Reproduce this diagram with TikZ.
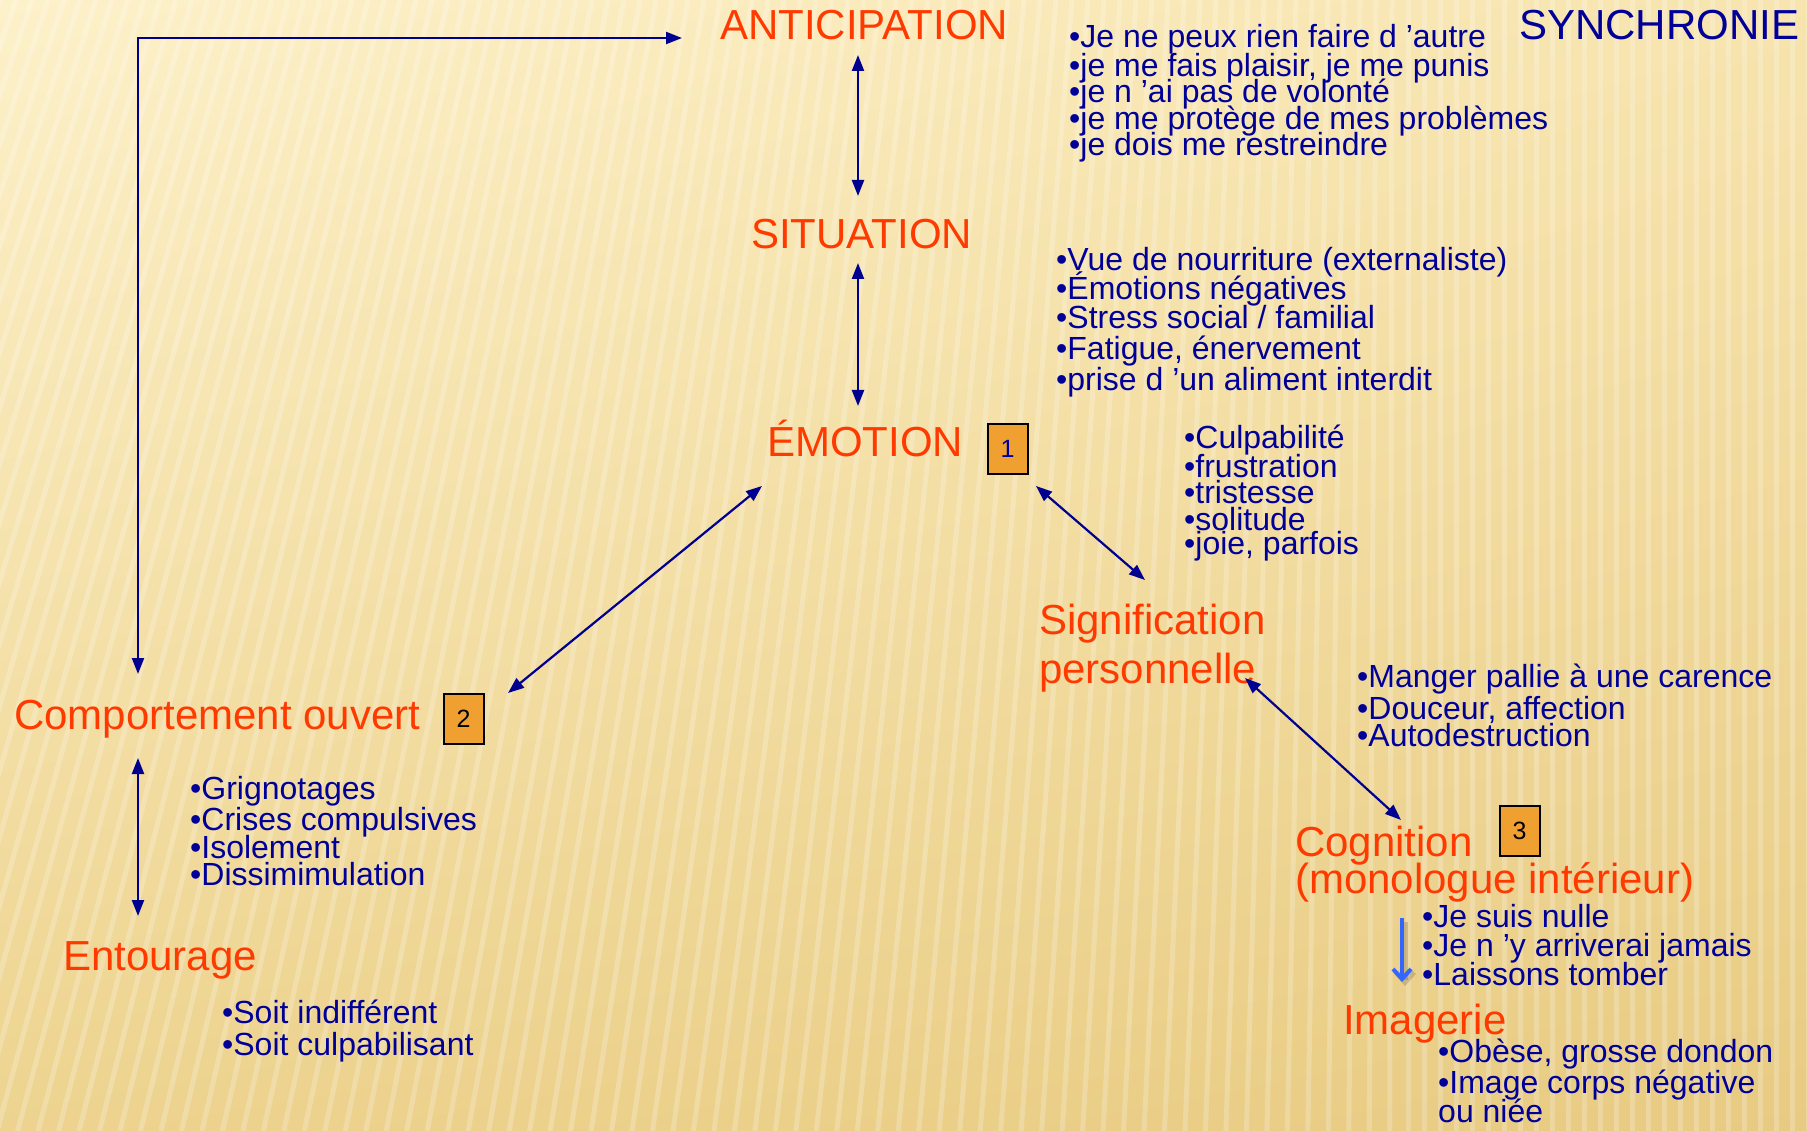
\documentclass[tikz,border=0pt]{standalone}
\usepackage{fontspec}
\setmainfont{Liberation Sans}
\usetikzlibrary{arrows.meta,calc,shadings}
\definecolor{redt}{HTML}{FF3A00}
\definecolor{navyt}{HTML}{000099}
\definecolor{arrowc}{HTML}{000090}
\definecolor{boxor}{HTML}{F0A030}
\definecolor{lblue}{HTML}{3366FF}
\definecolor{bgA}{HTML}{FDF1CA}
\definecolor{bgB}{HTML}{F7E4AE}
\definecolor{bgC}{HTML}{EDD38F}
\definecolor{bgD}{HTML}{E8CB82}
\begin{document}
\begin{tikzpicture}[x=1pt,y=-1pt,
  ttl/.style={text=redt, font=\fontsize{42}{46}\selectfont, anchor=base west, inner sep=0pt},
  itm/.style={text=navyt, font=\fontsize{32}{32}\selectfont, anchor=base west, inner sep=0pt},
  biarrow/.style={draw=arrowc, line width=2.2pt, {Triangle[length=16pt,width=12pt]}-{Triangle[length=16pt,width=12pt]}},
  numbox/.style={draw=black, line width=2pt, fill=boxor, minimum width=40pt, minimum height=50pt, inner sep=0pt, font=\fontsize{25}{25}\selectfont}]
% background
\useasboundingbox (0,0) rectangle (1807,1131);
\shade[upper left=bgA, upper right=bgB, lower left=bgC, lower right=bgD] (0,0) rectangle (1807,1131);
\begin{scope}
\clip (0,0) rectangle (1807,1131);
\foreach \i in {0,...,125} {
  \pgfmathsetmacro\xa{\i*16}
  \pgfmathsetmacro\xb{\xa - max(0,1400-\xa)*0.28}
  \draw[white, opacity=0.22, line width=5pt] (\xa,0) -- (\xb,1131);
}
\end{scope}

% titles
\node[ttl] (antic) at (720,40) {ANTICIPATION};
\node[itm, font=\fontsize{42}{46}\selectfont] (sync) at (1519,40) {SYNCHRONIE};
\node[ttl] (sit) at (751,249) {SITUATION};
\node[ttl] (emo) at (767,456) {ÉMOTION};
\node[numbox, text=navyt] (b1) at (1007.5,449) {1};
\node[ttl] (sig1) at (1039,634) {Signification};
\node[ttl] (sig2) at (1039,683) {personnelle};
\node[ttl] (cog1) at (1295,856) {Cognition};
\node[ttl] (cog2) at (1295,893) {(monologue intérieur)};
\node[numbox] (b3) at (1519.5,830.5) {3};
\node[ttl] (imag) at (1343,1034) {Imagerie};
\node[ttl] (comp) at (14,729) {Comportement ouvert};
\node[numbox] (b2) at (463.5,718.5) {2};
\node[ttl] (entour) at (63,970) {Entourage};

% lists
\node[itm] (a1) at (1069,48) {•Je ne peux rien faire d ’autre};
\node[itm] (a2) at (1069,77) {•je me fais plaisir, je me punis};
\node[itm] (a3) at (1069,103) {•je n ’ai pas de volonté};
\node[itm] (a4) at (1069,130) {•je me protège de mes problèmes};
\node[itm] (a5) at (1069,156) {•je dois me restreindre};

\node[itm] (s1) at (1056,271) {•Vue de nourriture (externaliste)};
\node[itm] (s2) at (1056,300) {•Émotions négatives};
\node[itm] (s3) at (1056,329) {•Stress social / familial};
\node[itm] (s4) at (1056,360) {•Fatigue, énervement};
\node[itm] (s5) at (1056,391) {•prise d ’un aliment interdit};

\node[itm] (e1) at (1184,448) {•Culpabilité};
\node[itm] (e2) at (1184,477) {•frustration};
\node[itm] (e3) at (1184,503) {•tristesse};
\node[itm] (e4) at (1184,530) {•solitude};
\node[itm] (e5) at (1184,554) {•joie, parfois};

\node[itm] (p1) at (1357,687) {•Manger pallie à une carence};
\node[itm] (p2) at (1357,719) {•Douceur, affection};
\node[itm] (p3) at (1357,746) {•Autodestruction};

\node[itm] (c1) at (1422,927) {•Je suis nulle};
\node[itm] (c2) at (1422,956) {•Je n ’y arriverai jamais};
\node[itm] (c3) at (1422,985) {•Laissons tomber};

\node[itm] (i1) at (1438,1062) {•Obèse, grosse dondon};
\node[itm] (i2) at (1438,1093) {•Image corps négative};
\node[itm] (i3) at (1438,1122) {ou niée};

\node[itm] (g1) at (190,799) {•Grignotages};
\node[itm] (g2) at (190,830) {•Crises compulsives};
\node[itm] (g3) at (190,858) {•Isolement};
\node[itm] (g4) at (190,885) {•Dissimimulation};

\node[itm] (t1) at (222,1023) {•Soit indifférent};
\node[itm] (t2) at (222,1055) {•Soit culpabilisant};

% connector end points
\coordinate (antB) at (858,55);
\coordinate (sitT) at (858,196);
\coordinate (sitB) at (858,263);
\coordinate (emoT) at (858,406);
\coordinate (emoR) at (1036,486);
\coordinate (sigT) at (1145,580);
\coordinate (emoL) at (762,486);
\coordinate (compR) at (508,693);
\coordinate (sigB) at (1245,678);
\coordinate (cogT) at (1401,820);
\coordinate (antL) at (682,38);
\coordinate (compT) at (138,674);
\coordinate (compB) at (138,758);
\coordinate (entT) at (138,916);
\coordinate (cogB) at (1402,918);
\coordinate (imgT) at (1402,982);

% connectors
\draw[biarrow] (antB) -- (sitT);
\draw[biarrow] (sitB) -- (emoT);
\draw[biarrow] (emoR) -- (sigT);
\draw[biarrow] (emoL) -- (compR);
\draw[biarrow] (sigB) -- (cogT);
\draw[biarrow] (antL) -| (compT);
\draw[biarrow] (compB) -- (entT);
\draw[black, opacity=0.15, line width=5pt, -{Straight Barb[length=10pt,width=18pt]}] ($(cogB)+(3,4)$) -- ($(imgT)+(3,4)$);
\draw[lblue, line width=4pt, -{Straight Barb[length=10pt,width=18pt]}] (cogB) -- (imgT);
\end{tikzpicture}
\end{document}
